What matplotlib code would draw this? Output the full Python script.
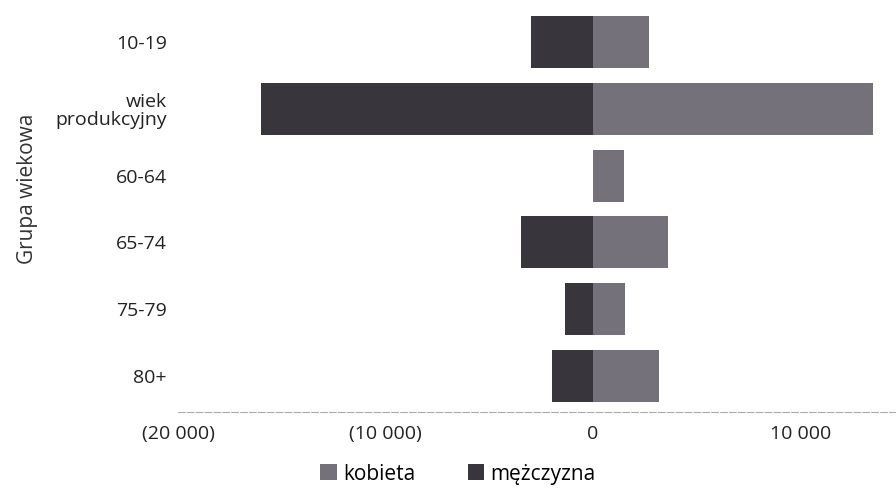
import numpy as np
import matplotlib
matplotlib.use("Agg")
import matplotlib.pyplot as plt
from matplotlib.ticker import FuncFormatter

plt.rcParams['font.family'] = ['Open Sans', 'DejaVu Sans']

# age groups, top to bottom
groups = ["10-19", "wiek\nprodukcyjny", "60-64", "65-74", "75-79", "80+"]
women = [2700, 13500, 1500, 3600, 1550, 3200]
men = [3000, 16000, 0, 3450, 1350, 2000]
xticks = [-20000, -10000, 0, 10000]


def fmt(v, pos):
    s = "{:,.0f}".format(abs(v)).replace(",", " ")
    return "(" + s + ")" if v < 0 else s


fig = plt.figure(figsize=(8.96, 4.98), dpi=100)
ax = fig.add_axes([178 / 896, 86 / 498, 718 / 896, 406 / 498])

y = np.arange(len(groups))
ax.barh(y, women, height=0.78, color="#75717a", label="kobieta")
ax.barh(y, [-m for m in men], height=0.78, color="#38363c", label="mężczyzna")

ax.set_ylim(len(groups) - 0.46, -0.54)
ax.set_xlim(-20000, 14600)
ax.set_yticks(y)
ax.set_yticklabels(groups, fontsize=14, color="#222222", linespacing=1.0)
ax.set_xticks(xticks)
ax.xaxis.set_major_formatter(FuncFormatter(fmt))
ax.tick_params(axis="x", labelsize=14, colors="#222222", length=0, pad=9)
ax.tick_params(axis="y", length=0, pad=8)
for lab in ax.get_yticklabels():
    lab.set_ha("right")
    lab.set_multialignment("right")

for side in ["top", "right", "left"]:
    ax.spines[side].set_visible(False)
ax.spines["bottom"].set_color("#aaaaaa")
ax.spines["bottom"].set_linestyle((0, (6, 2)))

ax.set_ylabel("Grupa wiekowa", fontsize=15, color="#333333")
ax.yaxis.set_label_coords(-0.195, 0.55)

fig.legend(loc="center", bbox_to_anchor=(458 / 896, 1 - 474 / 498), ncol=2,
           frameon=False, fontsize=15, handlelength=0.8, handleheight=0.8,
           columnspacing=2.5, handletextpad=0.3)

fig.savefig("out.png", dpi=100)
